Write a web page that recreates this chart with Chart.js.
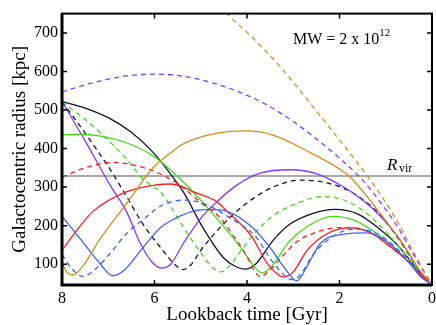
<!DOCTYPE html>
<html lang="en">
<head>
    <meta charset="UTF-8">
    <title>Galactocentric radius vs lookback time</title>
    <style>
        body { margin: 0; padding: 0; background: #ffffff; }
        #wrap { width: 436px; height: 325px; }
    </style>
</head>
<body>
    <div id="wrap"><canvas id="orbitChart" width="436" height="325"></canvas></div>

    <script src="https://cdn.jsdelivr.net/npm/chart.js"></script>
    <script>
        // axis ticks
        const xTicks = [0, 2, 4, 6, 8];
        const yTicks = [100, 200, 300, 400, 500, 600, 700];
        const rVir = 329;

        // orbits, [lookback time Gyr, radius kpc]
        const blackSolid = [[8,522],[7.5,505],[7,480],[6.5,442],[6.03,390],[5.66,335],[5.38,288],[4.95,194],[4.52,118],[4.25,94],[4.04,87],[3.8,102],[3.44,161],[3.07,204],[2.57,232],[2.1,242],[1.6,230],[1.12,190],[0.75,150],[0.5,114],[0.25,76],[0,47]];
        const blackDashed = [[8,522],[7.5,440],[6.96,346],[6.6,275],[6.25,204],[5.82,136],[5.55,98],[5.38,86],[5.2,100],[5.0,136],[4.65,186],[4.3,229],[3.87,270],[3.44,300],[2.85,318],[2.35,313],[1.84,293],[1.5,268],[1.12,228],[0.75,170],[0.5,125],[0.25,80],[0,47]];
        const purpleSolid = [[8,522],[7.5,420],[6.96,305],[6.6,235],[6.31,155],[6.05,105],[5.85,90],[5.65,100],[5.38,153],[5.0,219],[4.65,262],[4.22,305],[3.72,336],[3.07,345],[2.5,335],[1.84,295],[1.49,265],[1.12,225],[0.76,175],[0.5,128],[0.25,80],[0,47]];
        const purpleDashed = [[8,547],[7.5,565],[7,580],[6.5,590],[5.95,593],[5.4,588],[4.8,572],[4.2,548],[3.6,515],[3.0,470],[2.5,425],[2.0,375],[1.5,318],[1.1,258],[0.75,198],[0.45,135],[0.2,85],[0,47]];
        const orangeSolid = [[8,105],[7.9,80],[7.76,72],[7.55,95],[7.18,165],[6.6,258],[6.03,350],[5.66,388],[5.38,412],[4.65,440],[4.0,446],[3.44,435],[2.64,390],[1.95,343],[1.77,326],[1.12,232],[0.63,152],[0.3,90],[0,47]];
        const orangeDashed = [[4.7,790],[4.43,750],[3.9,690],[3.4,628],[2.95,565],[2.57,508],[2.2,452],[1.8,392],[1.38,326],[1.0,260],[0.7,200],[0.45,143],[0.2,88],[0,47]];
        const redSolid = [[8,136],[7.6,200],[7.33,237],[6.6,288],[5.95,306],[5.66,308],[5.38,300],[5.17,288],[4.65,262],[4.43,237],[3.9,172],[3.57,103],[3.35,75],[3.22,67],[3.0,80],[2.7,136],[2.27,179],[1.77,194],[1.3,180],[0.9,145],[0.5,105],[0.25,72],[0,47]];
        const redDashed = [[8,326],[7.5,350],[6.9,364],[6.25,351],[5.82,331],[5.45,305],[4.95,255],[4.65,229],[4.3,175],[4.0,120],[3.85,85],[3.72,68],[3.5,85],[3.2,125],[2.9,160],[2.5,183],[2.0,195],[1.77,195],[1.3,180],[0.9,145],[0.5,106],[0.25,72],[0,47]];
        const greenSolid = [[8,435],[7.6,437],[7.2,433],[6.6,415],[6.03,381],[5.66,345],[5.17,288],[4.65,219],[4.09,136],[3.85,95],[3.68,77],[3.5,90],[3.07,161],[2.49,212],[2.14,224],[1.7,215],[1.2,180],[0.8,140],[0.5,105],[0.25,72],[0,47]];
        const greenDashed = [[8,522],[7.33,458],[6.6,372],[6.25,321],[5.82,280],[5.45,210],[5.08,143],[4.75,92],[4.55,80],[4.35,100],[4.1,140],[3.8,185],[3.44,225],[3.0,254],[2.36,275],[1.99,270],[1.5,240],[1.0,185],[0.75,150],[0.5,115],[0.25,75],[0,47]];
        const blueSolid = [[8,224],[7.6,165],[7.2,105],[6.9,70],[6.65,85],[6.25,143],[5.88,194],[5.66,212],[5.17,237],[4.8,242],[4.43,237],[3.87,194],[3.5,143],[3.2,92],[2.92,57],[2.7,95],[2.42,153],[1.9,178],[1.4,181],[1.0,160],[0.5,105],[0.25,68],[0,47]];
        const blueDashed = [[8,125],[7.8,90],[7.55,68],[7.3,85],[6.96,128],[6.6,180],[6.25,215],[5.88,250],[5.38,266],[4.95,258],[4.37,220],[3.8,170],[3.5,115],[3.2,72],[3.03,60],[2.85,72],[2.6,120],[2.27,161],[1.7,191],[1.2,180],[0.8,145],[0.5,108],[0.25,70],[0,47]];

        const colors = {
            black: '#101030',
            purple: '#8a33ff',
            orange: '#d88a1c',
            red: '#ff1a1a',
            green: '#3ddc12',
            blue: '#3a62ff'
        };

        function orbit(points, color, dashed) {
            return {
                data: points.map(p => ({ x: p[0], y: p[1] })),
                borderColor: color,
                borderWidth: 1.3,
                borderDash: dashed ? [5, 4] : [],
                pointRadius: 0,
                fill: false,
                cubicInterpolationMode: 'monotone'
            };
        }

        const datasets = [
            orbit(orangeDashed, colors.orange, true),
            orbit(purpleDashed, colors.purple, true),
            orbit(orangeSolid, colors.orange, false),
            orbit(blueDashed, colors.blue, true),
            orbit(blueSolid, colors.blue, false),
            orbit(redDashed, colors.red, true),
            orbit(redSolid, colors.red, false),
            orbit(greenDashed, colors.green, true),
            orbit(greenSolid, colors.green, false),
            orbit(purpleSolid, colors.purple, false),
            orbit(blackDashed, colors.black, true),
            orbit(blackSolid, colors.black, false),
            {
                data: [{ x: 8, y: rVir }, { x: 0, y: rVir }],
                borderColor: '#aaaaaa',
                borderWidth: 2,
                pointRadius: 0
            }
        ];

        // frame with inward ticks, plus the text labels
        const framePlugin = {
            id: 'frame',
            afterDraw(chart) {
                const ctx = chart.ctx;
                const a = chart.chartArea;
                const xs = chart.scales.x, ys = chart.scales.y;
                ctx.save();
                ctx.strokeStyle = '#000';
                ctx.lineWidth = 2;
                ctx.strokeRect(a.left, a.top, a.right - a.left, a.bottom - a.top);
                ctx.lineWidth = 3;
                ctx.beginPath();
                ctx.moveTo(a.left, a.top);
                ctx.lineTo(a.left, a.bottom);
                ctx.lineTo(a.right, a.bottom);
                ctx.stroke();
                ctx.lineWidth = 1.5;
                ctx.beginPath();
                xTicks.forEach(v => {
                    const px = xs.getPixelForValue(v);
                    ctx.moveTo(px, a.bottom); ctx.lineTo(px, a.bottom - 5);
                    ctx.moveTo(px, a.top); ctx.lineTo(px, a.top + 5);
                });
                yTicks.forEach(v => {
                    const py = ys.getPixelForValue(v);
                    ctx.moveTo(a.left, py); ctx.lineTo(a.left + 5, py);
                    ctx.moveTo(a.right, py); ctx.lineTo(a.right - 5, py);
                });
                ctx.stroke();

                ctx.fillStyle = '#000';
                ctx.textBaseline = 'alphabetic';
                ctx.font = '16px "Liberation Serif"';
                ctx.fillText('MW = 2 x 10', 293, 44);
                const w = ctx.measureText('MW = 2 x 10').width;
                ctx.font = '11px "Liberation Serif"';
                ctx.fillText('12', 293 + w, 36);

                ctx.font = 'italic 17px "Liberation Serif"';
                ctx.fillText('R', 387, 170);
                ctx.font = '12px "Liberation Serif"';
                ctx.fillText('vir', 399, 172);
                ctx.restore();
            }
        };

        new Chart(document.getElementById('orbitChart'), {
            type: 'line',
            data: { datasets: datasets },
            options: {
                responsive: false,
                animation: false,
                layout: { padding: { top: 8, right: 4, left: 0, bottom: 0 } },
                plugins: { legend: { display: false }, tooltip: { enabled: false } },
                scales: {
                    x: {
                        type: 'linear',
                        reverse: true,
                        min: 0,
                        max: 8,
                        afterBuildTicks: s => { s.ticks = xTicks.map(v => ({ value: v })); },
                        afterFit: s => { s.height = 40; },
                        grid: { display: false, drawTicks: false },
                        border: { display: false },
                        ticks: { color: '#000', padding: 4, maxRotation: 0, font: { family: 'Liberation Serif', size: 16 } },
                        title: { display: true, text: 'Lookback time [Gyr]', color: '#000', padding: 0, font: { family: 'Liberation Serif', size: 19, lineHeight: 1 } }
                    },
                    y: {
                        min: 46,
                        max: 750,
                        afterBuildTicks: s => { s.ticks = yTicks.map(v => ({ value: v })); },
                        afterFit: s => { s.width = 62; },
                        grid: { display: false, drawTicks: false },
                        border: { display: false },
                        ticks: { color: '#000', padding: 4, font: { family: 'Liberation Serif', size: 16 } },
                        title: { display: true, text: 'Galactocentric radius [kpc]', color: '#000', padding: { top: 11 }, font: { family: 'Liberation Serif', size: 19, lineHeight: 1 } }
                    }
                }
            },
            plugins: [framePlugin]
        });
    </script>
</body>
</html>
